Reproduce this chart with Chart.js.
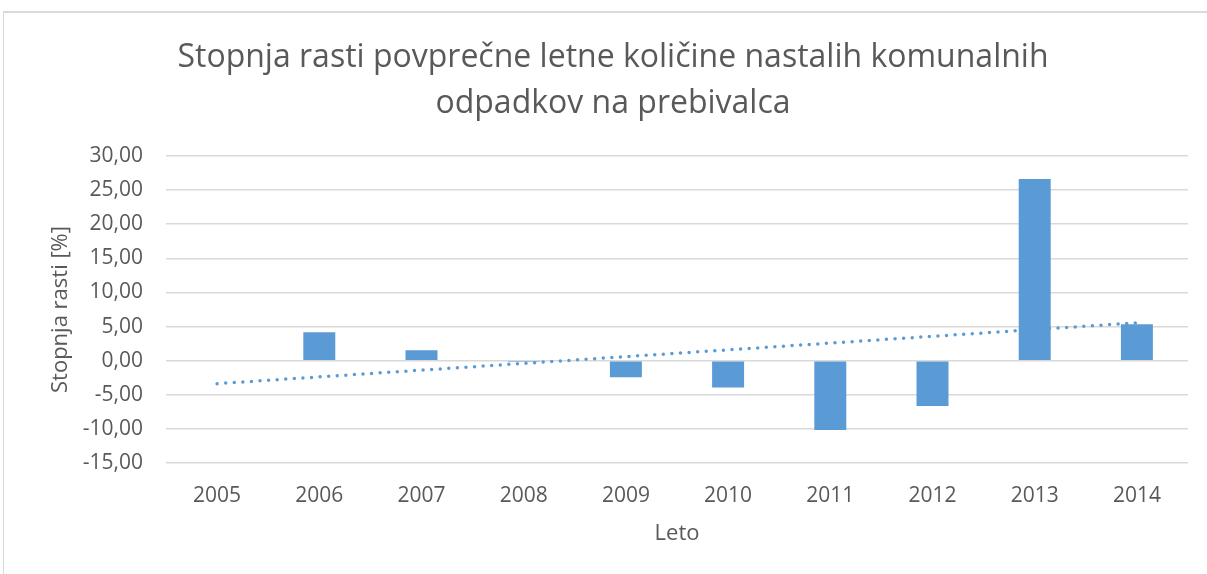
<!DOCTYPE html>
<html>
<head>
<meta charset="utf-8">
<script src="https://cdn.jsdelivr.net/npm/chart.js@4/dist/chart.umd.min.js"></script>
<style>
  html, body { margin: 0; padding: 0; background: #fff; overflow: hidden; }
  #frame { position: absolute; left: 3px; top: 11px; width: 1300px; height: 700px;
           border-left: 1px solid #d9d9d9; border-top: 2px solid #d9d9d9; }
  #myChart { position: absolute; left: 0; top: 0; }
</style>
</head>
<body>
<div id="frame"></div>
<canvas id="myChart" width="1207" height="574"></canvas>
<script>
// values
const years = ['2005', '2006', '2007', '2008', '2009', '2010', '2011', '2012', '2013', '2014'];
const growth = [null, 4.16, 1.52, -0.2, -2.44, -3.95, -10.16, -6.64, 26.64, 5.33];
// linear trend line (Excel), ends
const trend = [-3.37, null, null, null, null, null, null, null, null, 5.55];
const yTicks = [-15, -10, -5, 0, 5, 10, 15, 20, 25, 30];

const titleLines = ['Stopnja rasti povprečne letne količine nastalih komunalnih', 'odpadkov na prebivalca'];

const grey = '#595959';
const blue = '#5b9bd5';
const fam = "'Open Sans', 'DejaVu Sans', sans-serif";

const ctx = document.getElementById('myChart');
const myChart = new Chart(ctx, {
    type: 'bar',
    data: {
        labels: years,
        datasets: [{
            label: 'Stopnja rasti',
            data: growth,
            backgroundColor: blue,
            borderWidth: 0,
            barPercentage: 0.313,
            categoryPercentage: 1,
            order: 1
        }, {
            type: 'line',
            label: 'Linearna (Stopnja rasti)',
            data: trend,
            spanGaps: true,
            borderColor: blue,
            borderWidth: 3.5,
            borderDash: [0, 8.6],
            borderCapStyle: 'round',
            pointRadius: 0,
            tension: 0,
            order: 2
        }]
    },
    options: {
        responsive: false,
        animation: false,
        layout: { padding: { left: 38, right: 19, top: 0, bottom: 0 } },
        plugins: {
            legend: { display: false },
            tooltip: { enabled: false },
            title: {
                display: true,
                text: titleLines,
                color: grey,
                font: { family: fam, size: 32, weight: 'normal', lineHeight: '46px' },
                padding: { top: 35, bottom: 29 }
            }
        },
        scales: {
            x: {
                grid: { display: false },
                border: { display: false },
                ticks: { color: grey, font: { family: fam, size: 21 }, padding: 12, maxRotation: 0 },
                title: { display: true, text: 'Leto', color: grey,
                         font: { family: fam, size: 22 }, padding: { top: 0, bottom: 27 } },
                afterFit: s => { s.height = 111; }
            },
            y: {
                min: -15,
                max: 30,
                afterBuildTicks: s => { s.ticks = yTicks.map(v => ({ value: v })); },
                grid: { color: '#d9d9d9', lineWidth: 1.5, drawTicks: false },
                border: { display: false },
                ticks: {
                    color: grey,
                    font: { family: fam, size: 21 },
                    padding: 23,
                    callback: v => v.toFixed(2).replace('.', ',')
                },
                title: { display: true, text: 'Stopnja rasti [%]', color: grey,
                         font: { family: fam, size: 22 }, padding: { top: 10, bottom: 0 } },
                afterFit: s => { s.width = 128; }
            }
        }
    }
});
</script>
</body>
</html>
